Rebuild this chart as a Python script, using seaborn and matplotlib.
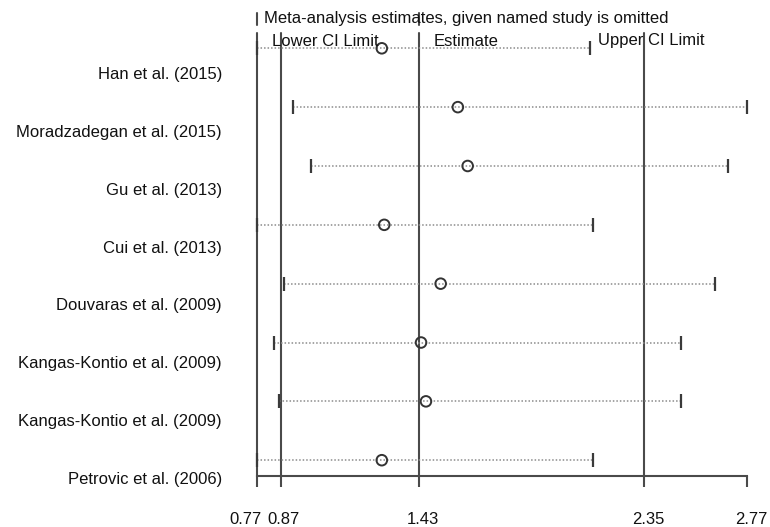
import matplotlib
matplotlib.use("Agg")
import matplotlib.pyplot as plt
import matplotlib.transforms as mtransforms
import numpy as np
import pandas as pd
import seaborn as sns

# Leave-one-out sensitivity results (odds ratio and 95% CI when each study is omitted)
studies = [
    "Han et al. (2015)",
    "Moradzadegan et al. (2015)",
    "Gu et al. (2013)",
    "Cui et al. (2013)",
    "Douvaras et al. (2009)",
    "Kangas-Kontio et al. (2009)",
    "Kangas-Kontio et al. (2009)",
    "Petrovic et al. (2006)",
]
estimate = [1.28, 1.59, 1.63, 1.29, 1.52, 1.44, 1.46, 1.28]
lower_ci = [0.77, 0.92, 0.99, 0.77, 0.88, 0.84, 0.86, 0.77]
upper_ci = [2.13, 2.77, 2.69, 2.14, 2.64, 2.50, 2.50, 2.14]

# Pooled estimate with all studies included
pooled_est = 1.43
pooled_lower = 0.87
pooled_upper = 2.35

x_ticks = [0.77, 0.87, 1.43, 2.35, 2.77]
x_tick_labels = ["0.77", "0.87", "1.43", "2.35", "2.77"]

df = pd.DataFrame({
    "study": studies,
    "estimate": estimate,
    "lower": lower_ci,
    "upper": upper_ci,
})
df["row"] = np.arange(len(df))[::-1]

sns.set_theme(style="white")
plt.rcParams["font.family"] = ["Liberation Sans", "DejaVu Sans"]

W, H = 770, 527
fig = plt.figure(figsize=(W / 100, H / 100), dpi=100)
ax_left, ax_right, ax_top, ax_bottom = 256.7, 747.3, 33, 475.5
ax = fig.add_axes([ax_left / W, 1 - ax_bottom / H,
                   (ax_right - ax_left) / W, (ax_bottom - ax_top) / H])

line_col = "#4a4a4a"
dot_col = "#8c8c8c"

# Reference lines: smallest lower limit, pooled lower limit, pooled estimate, pooled upper limit
ref_lines = [min(lower_ci), pooled_lower, pooled_est, pooled_upper]
for xv in ref_lines:
    ax.axvline(xv, color=line_col, lw=1.5, zorder=1, clip_on=False)

# short stubs of the reference lines visible in the title row
for xv in [min(lower_ci), pooled_est]:
    ax.plot([xv, xv], [1.018, 1.045], color=line_col, lw=1.5,
            transform=ax.get_xaxis_transform(), clip_on=False)

# Confidence intervals: dotted lines with end caps
ax.hlines(df["row"], df["lower"], df["upper"], colors=dot_col,
          linestyles=(0, (1, 1.3)), lw=1.1, zorder=2)
ax.plot(df["lower"], df["row"], "|", ms=10, mew=1.6, color="#3a3a3a",
        clip_on=False, zorder=3)
ax.plot(df["upper"], df["row"], "|", ms=10, mew=1.6, color="#3a3a3a",
        clip_on=False, zorder=3)

# Point estimates as open circles
sns.scatterplot(data=df, x="estimate", y="row", marker="o", s=58,
                facecolors="none", edgecolor="#333333", linewidth=1.4,
                ax=ax, zorder=4, clip_on=False, legend=False)

ax.set_xlim(min(lower_ci), max(upper_ci))
ax.set_ylim(-0.26, 7.26)
ax.set_xlabel("")
ax.set_ylabel("")
ax.set_yticks([])

sns.despine(ax=ax, left=True, top=True, right=True)
ax.spines["bottom"].set_color(line_col)
ax.spines["bottom"].set_linewidth(1.5)

ax.set_xticks(x_ticks)
ax.set_xticklabels(x_tick_labels)
ax.tick_params(axis="x", direction="out", length=8, width=1.5, color=line_col,
               pad=18, labelsize=12, labelcolor="#111111", bottom=True)

# nudge tick labels so that the two leftmost ones do not collide
for lab, val in zip(ax.get_xticklabels(), x_ticks):
    if val == x_ticks[0]:
        lab.set_horizontalalignment("right")
        dx = 5
    elif val == x_ticks[1]:
        dx = 2
    else:
        dx = 4
    lab.set_transform(lab.get_transform() +
                      mtransforms.ScaledTranslation(dx / 100, 0, fig.dpi_scale_trans))

# Study names on the left
label_tr = mtransforms.blended_transform_factory(fig.transFigure, ax.transData)
for name, r in zip(df["study"], df["row"]):
    ax.text(222 / W, r * 0.981 - 0.32, name, transform=label_tr,
            ha="right", va="center", fontsize=12, color="#111111")

# Header texts
fig.text(264 / W, 1 - 18 / H, "Meta-analysis estimates, given named study is omitted",
         ha="left", va="center", fontsize=12, color="#111111")
fig.text(272 / W, 1 - 41 / H, "Lower CI Limit", ha="left", va="center",
         fontsize=12, color="#111111")
fig.text(434 / W, 1 - 41 / H, "Estimate", ha="left", va="center",
         fontsize=12, color="#111111")
fig.text(598 / W, 1 - 41 / H, "Upper CI Limit", ha="left", va="center",
         fontsize=12, color="#111111")

fig.savefig("out.png", dpi=100, facecolor="white")
